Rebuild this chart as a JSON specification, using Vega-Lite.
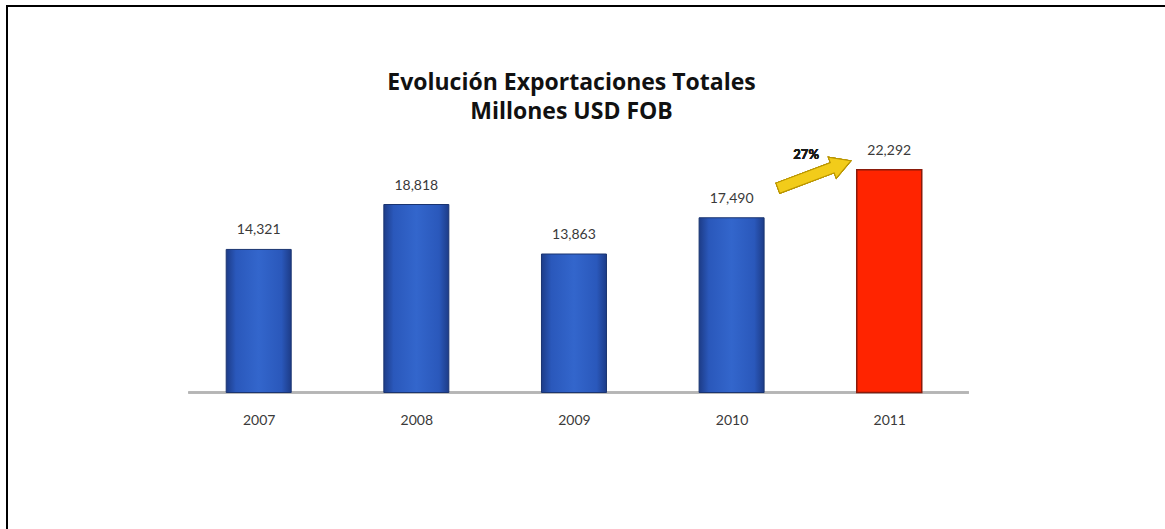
{
  "$schema": "https://vega.github.io/schema/vega-lite/v6.json",
  "autosize": {"type": "none"},
  "padding": {"left": 7, "top": 6, "right": 0, "bottom": 0},
  "width": 1165,
  "height": 530,
  "background": "white",
  "title": {
    "text": ["Evolución Exportaciones Totales", "Millones USD FOB"],
    "font": "Open Sans",
    "fontWeight": "bold",
    "fontSize": 23,
    "lineHeight": 29,
    "color": "#111111",
    "anchor": "middle",
    "frame": "group",
    "orient": "top",
    "baseline": "top",
    "offset": 0,
    "dx": -18,
    "dy": 118
  },
  "config": {
    "view": {"stroke": "black", "strokeWidth": 2},
    "font": "Lato"
  },
  "data": {
    "values": [
      {"year": 2007, "value": 14321, "label": "14,321"},
      {"year": 2008, "value": 18818, "label": "18,818"},
      {"year": 2009, "value": 13863, "label": "13,863"},
      {"year": 2010, "value": 17490, "label": "17,490"},
      {"year": 2011, "value": 22292, "label": "22,292"}
    ]
  },
  "encoding": {
    "x": {
      "field": "year",
      "type": "quantitative",
      "scale": {"domain": [2005.435, 2012.762], "nice": false, "zero": false},
      "axis": {
        "title": null,
        "values": [2007, 2008, 2009, 2010, 2011],
        "format": "d",
        "domain": false,
        "grid": false,
        "ticks": false,
        "offset": -143.5,
        "labelPadding": 21,
        "labelFont": "Lato",
        "labelFontSize": 14,
        "labelColor": "#3a3a3a",
        "labelFlush": false
      }
    },
    "y": {
      "field": "value",
      "type": "quantitative",
      "scale": {"domain": [-14364, 38689], "nice": false, "zero": false},
      "axis": null
    }
  },
  "layer": [
    {
      "mark": {"type": "rule", "color": "#b5b5b5", "strokeWidth": 2},
      "encoding": {
        "x": {"datum": 2006.554, "type": "quantitative"},
        "x2": {"datum": 2011.504},
        "y": {"datum": 0, "type": "quantitative"}
      }
    },
    {
      "transform": [{"filter": "datum.year < 2011"}],
      "mark": {
        "type": "bar",
        "width": 65,
        "stroke": "#1a3470",
        "strokeWidth": 1,
        "color": {
          "gradient": "linear",
          "x1": 0, "y1": 0, "x2": 1, "y2": 0,
          "stops": [
            {"offset": 0, "color": "#1d3c88"},
            {"offset": 0.15, "color": "#2a58bb"},
            {"offset": 0.5, "color": "#3366cc"},
            {"offset": 0.85, "color": "#2a58bb"},
            {"offset": 1, "color": "#1d3c88"}
          ]
        }
      }
    },
    {
      "transform": [{"filter": "datum.year == 2011"}],
      "mark": {"type": "bar", "width": 65, "color": "#ff2400", "stroke": "#8a1a0a", "strokeWidth": 1.5}
    },
    {
      "mark": {"type": "text", "baseline": "alphabetic", "dy": -15, "font": "Lato", "fontSize": 14, "color": "#3a3a3a"},
      "encoding": {"text": {"field": "label"}}
    },
    {
      "mark": {
        "type": "point",
        "filled": true,
        "shape": "M -1 -0.14 L 0.49 -0.14 L 0.49 -0.29 L 1 0 L 0.49 0.29 L 0.49 0.14 L -1 0.14 Z",
        "size": 6084,
        "angle": 339.4,
        "fill": "#f2cc1a",
        "stroke": "#b89400",
        "strokeWidth": 1,
        "opacity": 1
      },
      "encoding": {
        "x": {"datum": 2010.525, "type": "quantitative"},
        "y": {"datum": 21822, "type": "quantitative"}
      }
    },
    {
      "mark": {"type": "text", "font": "Lato", "fontWeight": "bold", "fontSize": 13, "color": "#1a1a1a", "baseline": "middle"},
      "encoding": {
        "x": {"datum": 2010.473, "type": "quantitative"},
        "y": {"datum": 23774, "type": "quantitative"},
        "text": {"value": "27%"}
      }
    }
  ]
}
